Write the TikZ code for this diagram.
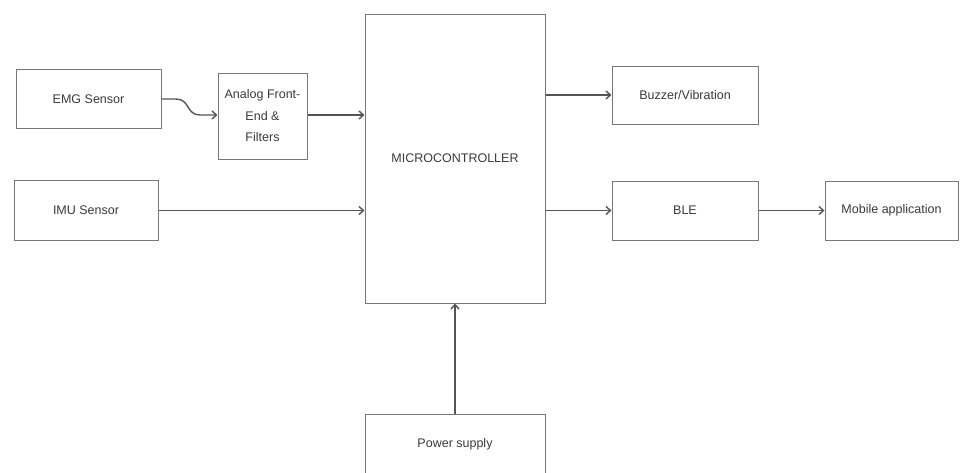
\documentclass[tikz,border=0pt]{standalone}
\usepackage{fontspec}
\setmainfont{Liberation Sans}
\usetikzlibrary{arrows.meta}
\definecolor{ln}{HTML}{555555}
\definecolor{bx}{HTML}{777777}
\definecolor{tx}{HTML}{3A3A3A}
\tikzset{
  blk/.style={draw=bx, line width=1pt, fill=white, inner sep=0pt, text=tx, font=\fontsize{12.5}{21.5}\selectfont, align=center},
  conn/.style={draw=ln, line width=1.4pt, -{Straight Barb[length=4.5pt,width=8pt,line width=1.4pt]}}
}
\begin{document}
\begin{tikzpicture}[x=1pt,y=-1pt]
\useasboundingbox (0,0) rectangle (960,472);
\node[blk, minimum width=145pt, minimum height=59pt] (emg) at (88.5,99) {EMG Sensor};
\node[blk, minimum width=89pt, minimum height=86pt] (afe) at (262.5,116) {Analog Front-\\End \&\\Filters};
\node[blk, minimum width=144pt, minimum height=60pt] (imu) at (86,210.5) {IMU Sensor};
\node[blk, minimum width=180pt, minimum height=289pt] (mcu) at (455,158.5) {MICROCONTROLLER};
\node[blk, minimum width=146pt, minimum height=58pt] (buz) at (685,95) {Buzzer/Vibration};
\node[blk, minimum width=146pt, minimum height=59pt] (ble) at (685,210.5) {BLE};
\node[blk, minimum width=133pt, minimum height=59pt] (mob) at (891.5,210.5) {Mobile application};
\node[blk, minimum width=180pt, minimum height=60pt] (pwr) at (455,444) {Power supply};
\coordinate (e1) at (emg.east |- 0,99);
\draw[conn] (e1) -- (176,99) .. controls (190,99) and (186,115) .. (200,115) -- (afe.west |- 0,115);
\draw[conn] (afe.east |- 0,115) -- (mcu.west |- 0,115);
\draw[conn] (imu.east) -- (mcu.west |- imu.east);
\draw[conn] (mcu.east |- buz.west) -- (buz.west);
\draw[conn] (mcu.east |- ble.west) -- (ble.west);
\draw[conn] (ble.east) -- (mob.west);
\draw[conn] (pwr.north) -- (mcu.south);
\end{tikzpicture}
\end{document}
